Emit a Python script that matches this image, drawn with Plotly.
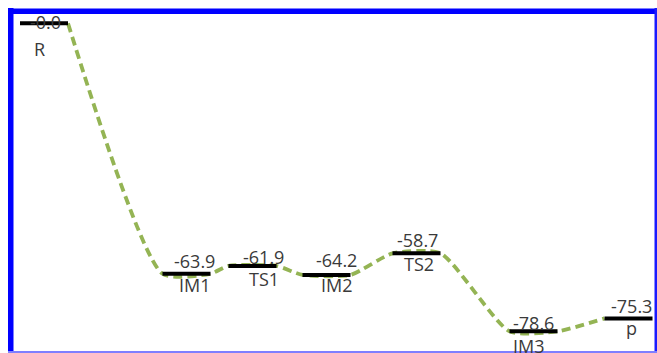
import plotly.graph_objects as go

# ---- data ----
species = ["R", "IM1", "TS1", "IM2", "TS2", "IM3", "p"]
energies = [0.0, -63.9, -61.9, -64.2, -58.7, -78.6, -75.3]
value_labels = ["-0.0", "-63.9", "-61.9", "-64.2", "-58.7", "-78.6", "-75.3"]
reaction_coord = [0.44, 1.865, 2.525, 3.265, 4.165, 5.335, 6.285]

# ---- style ----
W, H = 657, 353
half = 0.24
font = dict(family="Open Sans, Lato, sans-serif", size=18, color="#3a3a3a")
val_dx = [1, 8, 11, 10, 1, 0, 3]
val_dy = [1, 13, 9, 15, 13, 8, 12]
name_dx = [-5, 8, 11, 10, 2, -5, 3]
name_dy = [-26, -11, -13, -10, -11, -15, -10]

fig = go.Figure()

# dashed connecting curve through bar ends
cx, cy = [], []
for i, (x, e) in enumerate(zip(reaction_coord, energies)):
    if i > 0:
        cx.append(x - half); cy.append(e)
    if i < len(energies) - 1:
        cx.append(x + half); cy.append(e)
fig.add_trace(go.Scatter(x=cx, y=cy, mode="lines",
                         line=dict(color="#94b454", width=3.8, dash="9px,5px", shape="spline", smoothing=0.6),
                         hoverinfo="skip", showlegend=False))

# level bars
bx, by = [], []
for x, e in zip(reaction_coord, energies):
    bx += [x - half, x + half, None]
    by += [e, e, None]
fig.add_trace(go.Scatter(x=bx, y=by, mode="lines", line=dict(color="black", width=4),
                         hoverinfo="skip", showlegend=False))

ann = []
for i, (x, e) in enumerate(zip(reaction_coord, energies)):
    ann.append(dict(x=x, y=e, text=value_labels[i], showarrow=False, font=font,
                    xshift=val_dx[i], yshift=val_dy[i], xanchor="center", yanchor="middle"))
    ann.append(dict(x=x, y=e, text=species[i], showarrow=False, font=font,
                    xshift=name_dx[i], yshift=name_dy[i], xanchor="center", yanchor="middle"))

def px(x):
    return x / W

def py(y):
    return 1 - y / H

shapes = [
    dict(type="rect", xref="paper", yref="paper", x0=px(8), x1=px(13.5), y0=py(353), y1=py(8),
         fillcolor="#0000ff", line=dict(width=0), layer="above"),
    dict(type="rect", xref="paper", yref="paper", x0=px(8), x1=px(657), y0=py(14), y1=py(8.5),
         fillcolor="#0000ff", line=dict(width=0), layer="above"),
    dict(type="rect", xref="paper", yref="paper", x0=px(654.5), x1=px(657), y0=py(353), y1=py(8),
         fillcolor="#1a1aff", line=dict(width=0), layer="above"),
    dict(type="rect", xref="paper", yref="paper", x0=px(8), x1=px(657), y0=py(353), y1=py(351),
         fillcolor="#7f7fff", line=dict(width=0), layer="above"),
]

fig.update_layout(
    width=W, height=H,
    margin=dict(l=0, r=0, t=0, b=0),
    paper_bgcolor="white", plot_bgcolor="white",
    xaxis=dict(range=[0, 6.57], visible=False, fixedrange=True),
    yaxis=dict(range=[-84.13, 5.95], visible=False, fixedrange=True),
    annotations=ann, shapes=shapes, showlegend=False,
)

fig.write_html("out.html")
